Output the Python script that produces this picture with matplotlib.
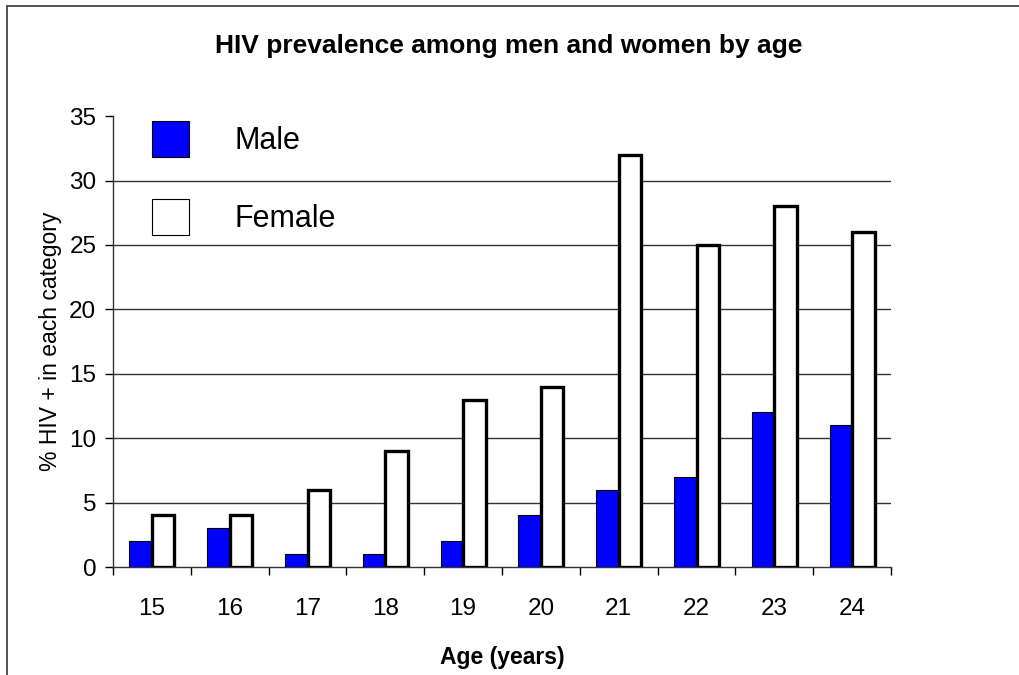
import matplotlib.pyplot as plt
import numpy as np
from matplotlib.patches import Patch, Rectangle

plt.rcParams['font.family'] = ['Liberation Sans', 'DejaVu Sans']

ages = ['15', '16', '17', '18', '19', '20', '21', '22', '23', '24']
male = [2, 3, 1, 1, 2, 4, 6, 7, 12, 11]
female = [4, 4, 6, 9, 13, 14, 32, 25, 28, 26]

fig = plt.figure(figsize=(10.19, 6.75), dpi=100)
# outer chart frame (only top and left edges fall inside the image)
fig.patches.append(Rectangle((7 / 1019, -0.05), 1.1, 1 - 6 / 675 + 0.05,
                             transform=fig.transFigure, fill=False,
                             edgecolor='#333333', lw=1.2))

ax = fig.add_axes([0.1109, 0.16, 0.7635, 0.668])

x = np.arange(len(ages))
w = 0.29
ax.bar(x - w / 2, male, w, color='#0000ff', edgecolor='black', lw=0.8, zorder=3)
ax.bar(x + w / 2, female, w, color='white', edgecolor='black', lw=2.4, zorder=3)

ax.set_xlim(-0.5, len(ages) - 0.5)
ax.set_ylim(0, 35)
ax.set_yticks(range(0, 36, 5))
for yv in range(5, 35, 5):
    ax.axhline(yv, color='#333333', lw=1, zorder=1)

# category ticks sit between groups, labels sit under the groups
ax.set_xticks(np.arange(-0.5, len(ages), 1))
ax.set_xticklabels([])
ax.set_xticks(x, minor=True)
ax.set_xticklabels(ages, minor=True, fontsize=17.5)
ax.tick_params(axis='x', which='major', length=6, width=1, direction='out')
ax.tick_params(axis='x', which='minor', length=0, pad=22)
ax.tick_params(axis='y', length=6, width=1, labelsize=17.5, pad=6)

for s in ['top', 'right']:
    ax.spines[s].set_visible(False)
for s in ['left', 'bottom']:
    ax.spines[s].set_color('#333333')
    ax.spines[s].set_linewidth(1)

ax.set_ylabel('% HIV + in each category', fontsize=16.5, labelpad=5)
ax.set_xlabel('Age (years)', fontsize=16.5, fontweight='bold', labelpad=19)
fig.text(0.4995, 1 - 46 / 675, 'HIV prevalence among men and women by age',
         ha='center', va='center', fontsize=19, fontweight='bold')

handles = [Patch(facecolor='#0000ff', edgecolor='black', lw=0.8),
           Patch(facecolor='white', edgecolor='black', lw=0.8)]
ax.legend(handles, ['Male', 'Female'], loc='upper left',
          bbox_to_anchor=(0.05, 0.99), frameon=False, fontsize=22,
          handlelength=1.21, handleheight=1.46, handletextpad=1.5,
          labelspacing=1.36, borderpad=0, borderaxespad=0)

fig.savefig('out.png', dpi=100)
